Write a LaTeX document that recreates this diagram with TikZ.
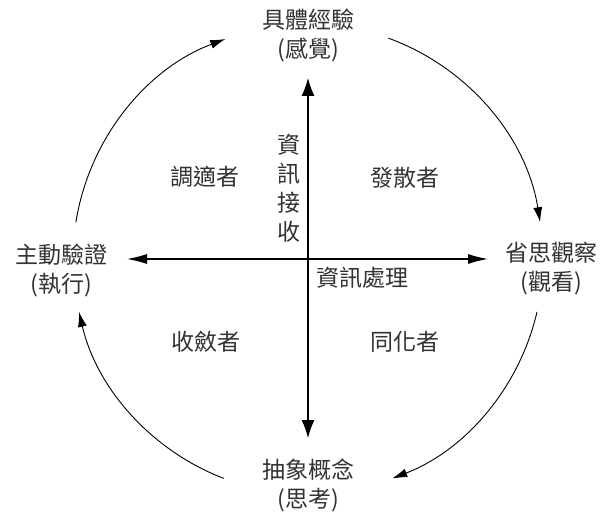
\documentclass[tikz,border=0pt]{standalone}
\usepackage{fontspec}
\setmainfont{Noto Sans CJK TC}
\usetikzlibrary{arrows.meta,calc}
\begin{document}
\begin{tikzpicture}[x=1pt,y=1pt,
  lbl/.style={font=\fontsize{23}{29}\selectfont, text=black!80, align=center, inner sep=0pt},
  axis/.style={line width=1.1pt},
  vaxis/.style={axis,{Latex[length=18pt,width=13pt]}-{Latex[length=18pt,width=13pt]}},
  haxis/.style={axis,{Latex[length=20pt,width=10pt]}-{Latex[length=20pt,width=10pt]}},
  cyc/.style={line width=0.9pt,-{Latex[length=15pt,width=9pt]}}]
\useasboundingbox (0,0) rectangle (612,525);
\fill[white] (0,0) rectangle (612,525);
\coordinate (C) at (308,266);
% stage labels
\node[lbl] (top) at (308,490) {具體經驗\\(感覺)};
\node[lbl] (left) at (61,255) {主動驗證\\(執行)};
\node[lbl] (right) at (551,256) {省思觀察\\(觀看)};
\node[lbl] (bottom) at (308,39.5) {抽象概念\\(思考)};
% quadrant labels
\node[lbl] (q1) at (205,348) {調適者};
\node[lbl] (q2) at (405,347) {發散者};
\node[lbl] (q3) at (206,183) {收斂者};
\node[lbl] (q4) at (405,183) {同化者};
% axis labels
\node[lbl] (recv) at (289,336.5) {資\\訊\\接\\收};
\node[lbl] (proc) at (362,247) {資訊處理};
% axes
\coordinate (vt) at (308,447);
\coordinate (vb) at (308,87);
\coordinate (hl) at (127,266);
\coordinate (hr) at (488,266);
\draw[vaxis] (vb) -- (vt);
\draw[haxis] (hl) -- (hr);
% cycle arcs
\coordinate (a1) at ($(C)+(171:235)$);
\coordinate (a2) at ($(C)+(70:235)$);
\coordinate (a3) at ($(C)+(-13:235)$);
\coordinate (a4) at ($(C)+(-111:235)$);
\draw[cyc] (a1) arc[start angle=171, end angle=110.6, radius=235];
\draw[cyc] (a2) arc[start angle=70, end angle=9, radius=235];
\draw[cyc] (a3) arc[start angle=-13, end angle=-69, radius=235];
\draw[cyc] (a4) arc[start angle=-111, end angle=-167, radius=235];
\end{tikzpicture}
\end{document}
